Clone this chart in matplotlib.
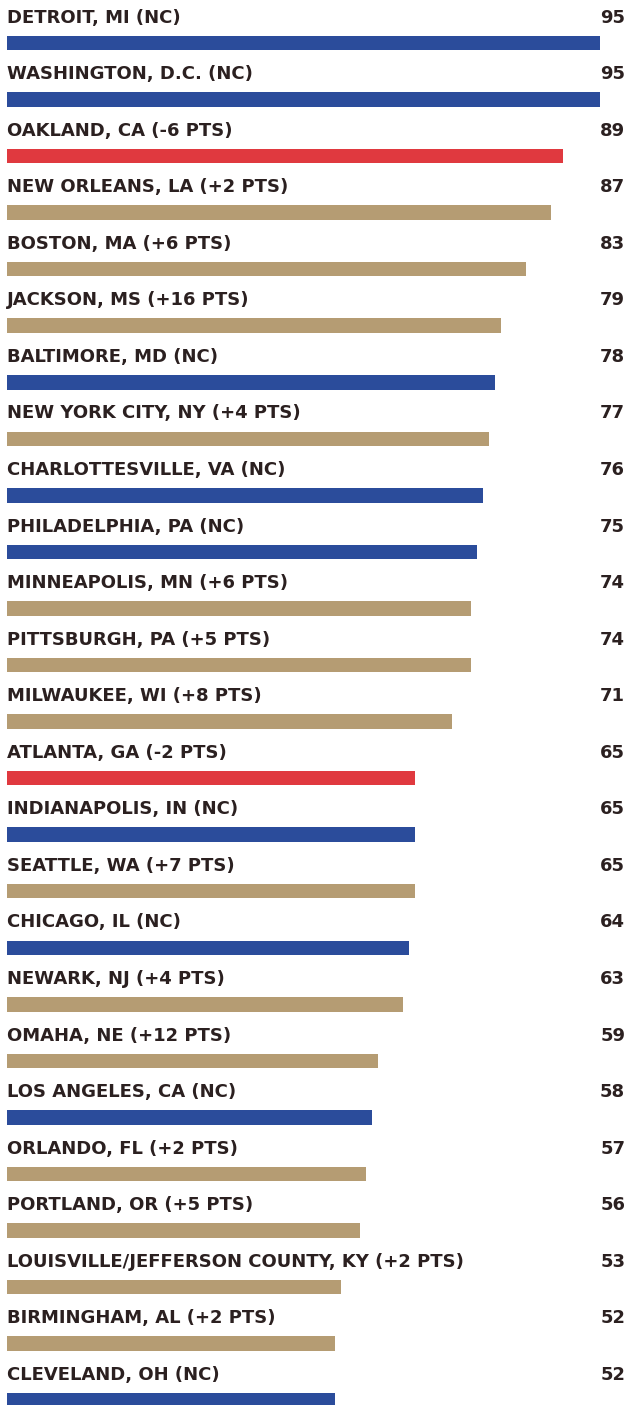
import matplotlib
matplotlib.use('Agg')
import matplotlib.pyplot as plt
import matplotlib.transforms as mtransforms

cities = [
    'DETROIT, MI (NC)',
    'WASHINGTON, D.C. (NC)',
    'OAKLAND, CA (-6 PTS)',
    'NEW ORLEANS, LA (+2 PTS)',
    'BOSTON, MA (+6 PTS)',
    'JACKSON, MS (+16 PTS)',
    'BALTIMORE, MD (NC)',
    'NEW YORK CITY, NY (+4 PTS)',
    'CHARLOTTESVILLE, VA (NC)',
    'PHILADELPHIA, PA (NC)',
    'MINNEAPOLIS, MN (+6 PTS)',
    'PITTSBURGH, PA (+5 PTS)',
    'MILWAUKEE, WI (+8 PTS)',
    'ATLANTA, GA (-2 PTS)',
    'INDIANAPOLIS, IN (NC)',
    'SEATTLE, WA (+7 PTS)',
    'CHICAGO, IL (NC)',
    'NEWARK, NJ (+4 PTS)',
    'OMAHA, NE (+12 PTS)',
    'LOS ANGELES, CA (NC)',
    'ORLANDO, FL (+2 PTS)',
    'PORTLAND, OR (+5 PTS)',
    'LOUISVILLE/JEFFERSON COUNTY, KY (+2 PTS)',
    'BIRMINGHAM, AL (+2 PTS)',
    'CLEVELAND, OH (NC)',
]
scores = [95, 95, 89, 87, 83, 79, 78, 77, 76, 75, 74, 74, 71, 65, 65, 65,
          64, 63, 59, 58, 57, 56, 53, 52, 52]
# change vs last year: 'nc' = no change, 'down', 'up'
change = ['nc', 'nc', 'down', 'up', 'up', 'up', 'nc', 'up', 'nc', 'nc', 'up',
          'up', 'up', 'down', 'nc', 'up', 'nc', 'up', 'up', 'nc', 'up', 'up',
          'up', 'up', 'nc']

colors = {'nc': '#2b4c9b', 'down': '#e0393f', 'up': '#b59c73'}
text_color = '#2b2020'

fig = plt.figure(figsize=(6.29, 14.05), dpi=100)
ax = fig.add_axes([0, 0, 1, 1])

bar_start = -1.25
rows = list(range(len(cities)))
ax.barh(rows, [s - bar_start for s in scores], left=bar_start, height=0.256,
        color=[colors[c] for c in change])

# labels sit on a baseline just above each bar
label_off = 0.36
trans = mtransforms.blended_transform_factory(ax.transAxes, ax.transData)
for i, (name, s) in enumerate(zip(cities, scores)):
    ax.text(bar_start - 0.05, i - label_off, name, ha='left', va='baseline',
            fontsize=13, fontweight='bold', color=text_color,
            family='DejaVu Sans')
    ax.text(0.994, i - label_off, str(s), transform=trans, ha='right',
            va='baseline', fontsize=13, fontweight='bold', color=text_color,
            family='DejaVu Sans')

ax.set_xlim(-2.39, 99.7)
ax.set_ylim(24.085, -0.760)
ax.axis('off')

fig.savefig('out.png', dpi=100)
